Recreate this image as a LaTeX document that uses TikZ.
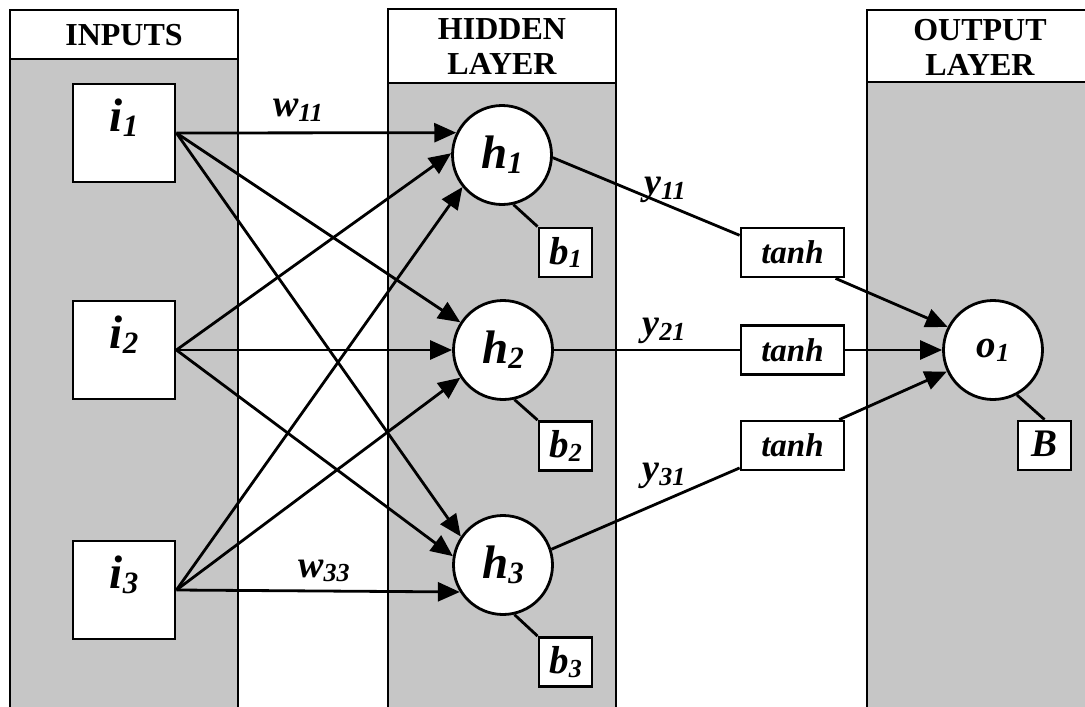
\documentclass[tikz,border=0pt]{standalone}
\usepackage{fontspec}
\setmainfont{Liberation Serif}
\usetikzlibrary{arrows.meta,calc}
\definecolor{panelgray}{RGB}{198,198,198}
\newcommand{\biglab}[2]{{\fontsize{47}{47}\selectfont\bfseries\itshape #1\raisebox{-0.1em}{\fontsize{31}{31}\selectfont #2}}}
\newcommand{\midlab}[2]{{\fontsize{39}{39}\selectfont\bfseries\itshape #1\raisebox{-0.1em}{\fontsize{26}{26}\selectfont #2}}}
\newcommand{\smlab}[2]{{\fontsize{38}{38}\selectfont\bfseries\itshape #1\raisebox{-0.12em}{\fontsize{26}{26}\selectfont #2}}}
\begin{document}
\begin{tikzpicture}[x=1pt,y=-1pt,
  lw/.style={line width=2.8pt},
  header/.style={lw, fill=white},
  htext/.style={font=\fontsize{32}{35}\selectfont\bfseries, align=center, inner sep=0pt},
  inbox/.style={draw, lw, fill=white, minimum width=102pt, minimum height=98pt, inner sep=0pt},
  neuron/.style={draw, lw, fill=white, circle, minimum size=99pt, inner sep=0pt},
  smbox/.style={draw, lw, fill=white, minimum width=53pt, minimum height=49pt, inner sep=0pt},
  tbox/.style={draw, lw, fill=white, minimum width=103pt, minimum height=49pt, inner sep=0pt, font=\fontsize{33}{33}\selectfont\bfseries\itshape},
  conn/.style={lw},
  arr/.style={lw, -{Triangle[length=22pt,width=19pt]}},
  wlab/.style={inner sep=0pt}
]
\useasboundingbox (0,0) rectangle (1085,707);
% panels
\fill[panelgray] (10,10) rectangle (238,720);
\draw[lw] (10,720) -- (10,10) -- (238,10) -- (238,720);
\draw[header] (10,10) rectangle (238,59);
\node[htext] (hin) at (124,35) {INPUTS};

\fill[panelgray] (388,9) rectangle (616,720);
\draw[lw] (388,720) -- (388,9) -- (616,9) -- (616,720);
\draw[header] (388,9) rectangle (616,83);
\node[htext] (hhid) at (502,47) {HIDDEN\\LAYER};

\fill[panelgray] (867,10) rectangle (1093,720);
\draw[lw] (867,720) -- (867,10) -- (1093,10) -- (1093,720);
\draw[header] (867,10) rectangle (1093,82);
\node[htext] (hout) at (980,47) {OUTPUT\\LAYER};

% input nodes
\node[inbox, label={[yshift=15pt]center:\biglab{i}{1}}] (i1) at (124,133) {};
\node[inbox, label={[yshift=15pt]center:\biglab{i}{2}}] (i2) at (124,350) {};
\node[inbox, label={[yshift=15pt]center:\biglab{i}{3}}] (i3) at (124,590) {};

% hidden nodes
\node[neuron] (h1) at (502,155) {\biglab{h}{1}};
\node[neuron] (h2) at (503,350) {\biglab{h}{2}};
\node[neuron] (h3) at (503,565) {\biglab{h}{3}};
\node[smbox] (b1) at (565.5,252.5) {\midlab{b}{1}};
\node[smbox] (b2) at (565.5,446) {\midlab{b}{2}};
\node[smbox] (b3) at (565.5,662) {\midlab{b}{3}};

% tanh boxes
\node[tbox] (t1) at (792.5,252.5) {tanh};
\node[tbox] (t2) at (792.5,350) {tanh};
\node[tbox] (t3) at (792.5,445.5) {tanh};

% output
\node[neuron] (o1) at (993,350) {\midlab{o}{1}};
\node[smbox] (B) at (1044.5,445.5) {\midlab{B}{}};

% input -> hidden
\draw[arr] (i1.east) -- (h1.154);
\draw[arr] (i1.east) -- (h2.147);
\draw[arr] (i1.east) -- (h3.146);
\draw[arr] (i2.east) -- (h1.178);
\draw[arr] (i2.east) -- (h2.180);
\draw[arr] (i2.east) -- (h3.170);
\draw[arr] (i3.east) -- (h1.219);
\draw[arr] (i3.east) -- (h2.213);
\draw[arr] (i3.east) -- (h3.212);

% biases
\draw[conn] (h1.-77) -- (b1.north west);
\draw[conn] (h2.-77) -- (b2.north west);
\draw[conn] (h3.-77) -- (b3.north west);
\draw[conn] (o1.-62) -- (B.north);

% hidden -> tanh
\draw[conn] (h1.-3) -- (t1.162);
\draw[conn] (h2.east) -- (t2.west);
\draw[conn] (h3.18) -- (t3.203);

% tanh -> output
\draw[arr] (t1.-31) -- (o1.153);
\draw[arr] (t2.east) -- (o1.west);
\draw[arr] (t3.29) -- (o1.205);

% weight labels
\node[wlab] (w11) at (298,110) {\smlab{w}{11}};
\node[wlab] (w33) at (324,571) {\smlab{w}{33}};
\node[wlab] (y11) at (665,190) {\smlab{y}{11}};
\node[wlab] (y21) at (664,331) {\smlab{y}{21}};
\node[wlab] (y31) at (664,476) {\smlab{y}{31}};
\end{tikzpicture}
\end{document}
